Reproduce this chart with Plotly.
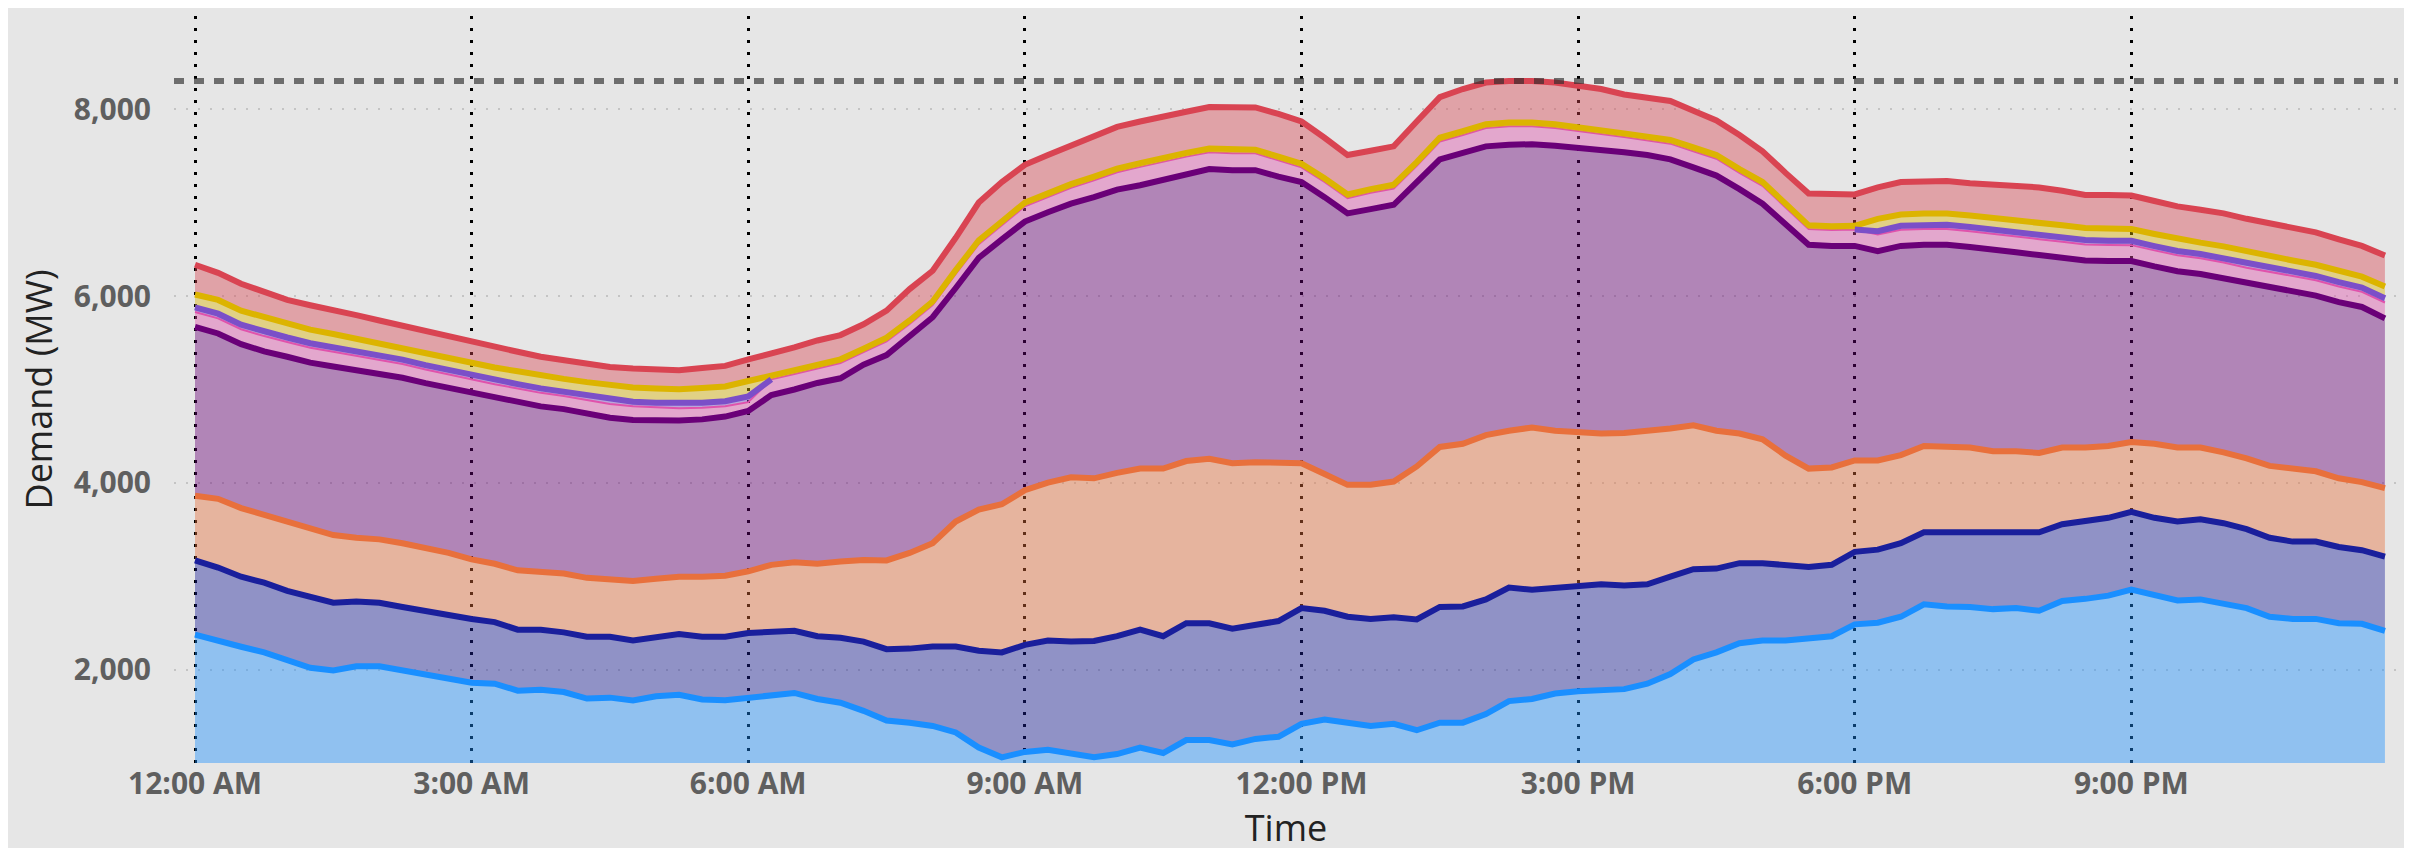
import numpy as np
import pandas as pd
import plotly.graph_objects as go

# 15-minute intervals over one day
times = pd.date_range("2024-01-01 00:00", periods=96, freq="15min")
tick_times = pd.date_range("2024-01-01 00:00", periods=8, freq="3h")
tick_labels = ["12:00 AM", "3:00 AM", "6:00 AM", "9:00 AM",
               "12:00 PM", "3:00 PM", "6:00 PM", "9:00 PM"]

# Demand per layer (MW), bottom of the stack first
blue_vals = [2375, 2305, 2245, 2185, 2110, 2020, 1990, 2035, 2035, 1990, 1935, 1905,
             1860, 1850, 1775, 1785, 1760, 1690, 1700, 1670, 1715, 1730, 1680, 1672,
             1700, 1720, 1750, 1686, 1646, 1559, 1455, 1432, 1397, 1327, 1165, 1061,
             1119, 1142, 1096, 1061, 1096, 1165, 1107, 1246, 1246, 1200, 1258, 1281,
             1420, 1466, 1432, 1397, 1420, 1351, 1432, 1432, 1524, 1663, 1686, 1744,
             1768, 1779, 1791, 1849, 1953, 2109, 2185, 2283, 2312, 2312, 2341, 2358,
             2485, 2503, 2566, 2700, 2677, 2671, 2648, 2659, 2630, 2735, 2758, 2792,
             2856, 2798, 2740, 2752, 2706, 2659, 2566, 2543, 2543, 2497, 2491, 2416]
navy_vals = [794, 788, 750, 746, 734, 755, 727, 694, 682, 681, 690, 685,
             683, 659, 653, 643, 639, 662, 652, 642, 637, 651, 672, 680,
             693, 690, 666, 672, 695, 741, 764, 793, 851, 921, 1037, 1123,
             1146, 1170, 1204, 1245, 1262, 1263, 1251, 1251, 1251, 1239, 1228, 1239,
             1239, 1164, 1134, 1146, 1141, 1186, 1239, 1245, 1228, 1216, 1170, 1135,
             1134, 1135, 1111, 1065, 1042, 967, 897, 857, 828, 810, 758, 764,
             776, 782, 788, 770, 793, 805, 822, 811, 840, 822, 828, 834,
             834, 828, 846, 857, 862, 845, 846, 828, 828, 816, 788, 793]
orange_vals = [694, 736, 735, 724, 742, 741, 724, 683, 678, 683, 683, 660,
               637, 625, 636, 625, 630, 631, 608, 637, 620, 614, 643, 654,
               660, 712, 735, 776, 816, 874, 950, 1025, 1106, 1338, 1511, 1587,
               1656, 1690, 1760, 1743, 1749, 1725, 1795, 1737, 1760, 1772, 1736, 1702,
               1552, 1465, 1413, 1436, 1453, 1639, 1714, 1742, 1760, 1679, 1737, 1679,
               1645, 1615, 1633, 1639, 1587, 1540, 1476, 1389, 1326, 1170, 1054, 1043,
               979, 955, 944, 926, 915, 903, 868, 868, 851, 822, 793, 770,
               747, 793, 793, 770, 759, 759, 770, 782, 753, 736, 729, 735]
purple_vals = [1807, 1771, 1755, 1754, 1765, 1772, 1806, 1795, 1777, 1772, 1760, 1771,
               1783, 1777, 1801, 1766, 1761, 1761, 1737, 1725, 1696, 1673, 1685, 1704,
               1717, 1818, 1849, 1936, 1963, 2091, 2200, 2316, 2420, 2501, 2698, 2837,
               2878, 2896, 2930, 3011, 3034, 3034, 3092, 3069, 3104, 3138, 3127, 3058,
               3011, 2965, 2907, 2953, 2964, 3046, 3080, 3115, 3092, 3063, 3034, 3052,
               3045, 3034, 3005, 2958, 2883, 2762, 2733, 2617, 2524, 2478, 2397, 2373,
               2298, 2241, 2240, 2154, 2165, 2148, 2154, 2131, 2119, 2032, 2003, 1980,
               1939, 1899, 1887, 1858, 1864, 1870, 1911, 1899, 1882, 1887, 1876, 1818]
pink_vals = [160, 162, 160, 163, 158, 160, 157, 152, 148, 147, 146, 140,
             148, 145, 146, 145, 140, 143, 148, 146, 140, 132, 125, 110,
             95, 169, 167, 155, 163, 135, 145, 135, 130, 151, 145, 151,
             163, 162, 169, 180, 185, 197, 197, 191, 180, 180, 180, 174,
             157, 162, 163, 174, 175, 174, 191, 192, 197, 198, 192, 191,
             180, 174, 163, 157, 168, 174, 180, 175, 192, 180, 168, 169,
             175, 178, 172, 170, 170, 168, 172, 172, 170, 172, 172, 172,
             170, 172, 172, 168, 170, 172, 165, 165, 165, 168, 162, 170]
violet_vals = [50, 50, 49, 49, 48, 48, 48, 47, 47, 47, 47, 46,
               47, 47, 47, 48, 48, 48, 49, 49, 50, 50, 52, 55,
               60, 0, 0, 0, 0, 0, 0, 0, 0, 0, 0, 0,
               0, 0, 0, 0, 0, 0, 0, 0, 0, 0, 0, 0,
               0, 0, 0, 0, 0, 0, 0, 0, 0, 0, 0, 0,
               0, 0, 0, 0, 0, 0, 0, 0, 0, 0, 0, 0,
               0, 36, 43, 45, 45, 46, 46, 46, 46, 46, 46, 46,
               46, 46, 46, 46, 45, 45, 45, 45, 45, 45, 45, 45]
gold_vals = [137, 147, 150, 153, 142, 145, 143, 137, 129, 130, 131, 127,
             136, 133, 137, 137, 136, 144, 151, 152, 152, 154, 159, 158,
             166, 40, 40, 40, 40, 38, 40, 38, 38, 40, 40, 40,
             40, 40, 40, 40, 40, 40, 40, 40, 40, 40, 40, 40,
             40, 40, 40, 40, 40, 40, 40, 40, 40, 40, 40, 40,
             40, 40, 40, 40, 40, 40, 40, 40, 40, 40, 40, 40,
             40, 133, 121, 121, 121, 122, 130, 129, 126, 129, 130, 130,
             126, 130, 130, 122, 127, 131, 120, 120, 120, 123, 117, 127]
red_vals = [319, 290, 289, 272, 260, 261, 260, 254, 243, 231, 232, 232,
            214, 214, 209, 202, 197, 197, 197, 203, 208, 203, 214, 220,
            232, 231, 243, 260, 260, 261, 290, 336, 330, 347, 406, 423,
            405, 411, 416, 428, 446, 446, 446, 440, 445, 457, 452, 457,
            451, 434, 422, 411, 411, 434, 435, 452, 446, 445, 445, 446,
            446, 441, 417, 423, 417, 394, 371, 364, 330, 330, 342, 347,
            336, 336, 348, 341, 347, 347, 353, 365, 382, 371, 353, 359,
            359, 353, 347, 353, 353, 347, 359, 348, 347, 336, 330, 330]


def rgba(hex_color, alpha):
    h = hex_color.lstrip("#")
    r, g, b = int(h[0:2], 16), int(h[2:4], 16), int(h[4:6], 16)
    return f"rgba({r},{g},{b},{alpha})"


layers = [
    (blue_vals, "#1a8fff", 6),
    (navy_vals, "#1a1f9c", 6),
    (orange_vals, "#e8703c", 6),
    (purple_vals, "#6a0078", 6),
    (pink_vals, "#e052ac", 2),
    (violet_vals, "#7b4fc8", 0),
    (gold_vals, "#dcb400", 6),
    (red_vals, "#d94452", 6),
]

fig = go.Figure()

for vals, color, width in layers:
    fig.add_trace(go.Scatter(
        x=times, y=vals,
        mode="lines",
        stackgroup="demand",
        line=dict(color=color, width=width),
        fillcolor=rgba(color, 0.42),
        showlegend=False,
        hoverinfo="skip",
    ))
    if vals is violet_vals:
        # the violet edge only shows where that layer is non-zero
        top = np.sum([blue_vals, navy_vals, orange_vals, purple_vals,
                      pink_vals, violet_vals], axis=0).astype(float)
        on = np.array(violet_vals) > 0
        show = on | np.roll(on, 1) | np.roll(on, -1)
        fig.add_trace(go.Scatter(
            x=times, y=np.where(show, top, np.nan),
            mode="lines",
            line=dict(color=color, width=6),
            connectgaps=False,
            showlegend=False,
            hoverinfo="skip",
        ))

# Peak demand reference line
totals = np.sum([v for v, _, _ in layers], axis=0)
fig.add_hline(y=totals.max(), line=dict(color="rgba(45,45,45,0.65)", width=6,
                                        dash="10px,10px"), layer="above")

tick_font = dict(family="Open Sans", size=30, color="#5f5f5f", weight="bold")
title_font = dict(family="Open Sans", size=36, color="#222222")

fig.update_layout(
    width=2412,
    height=848,
    margin=dict(l=166, r=22, t=8, b=93),
    paper_bgcolor="#e6e6e6",
    plot_bgcolor="#e6e6e6",
    xaxis=dict(
        type="date",
        range=["2023-12-31 23:46:20", "2024-01-01 23:53:30"],
        tickvals=tick_times,
        ticktext=tick_labels,
        showgrid=True,
        gridcolor="#000000",
        gridwidth=2.5,
        griddash="3px,9px",
        zeroline=False,
        showline=False,
        ticks="",
        ticklabelstandoff=0,
        tickfont=tick_font,
        title=dict(text="Time", font=title_font, standoff=2),
    ),
    yaxis=dict(
        range=[1000, 9000],
        tickvals=[2000, 4000, 6000, 8000],
        tickformat=",",
        showgrid=True,
        gridcolor="#c4c4c4",
        gridwidth=2,
        griddash="2px,10px",
        zeroline=False,
        showline=False,
        ticks="",
        ticklabelstandoff=22,
        tickfont=tick_font,
        title=dict(text="Demand (MW)", font=title_font, standoff=10),
    ),
)

fig.write_html("out.html")
